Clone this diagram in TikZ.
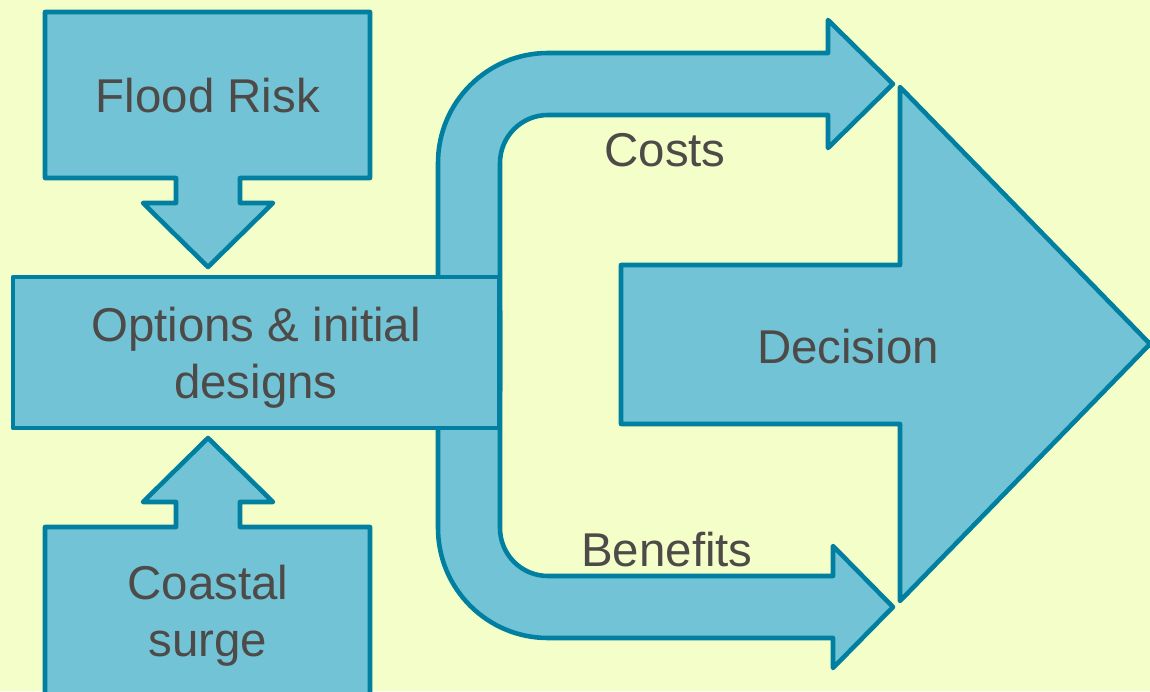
\documentclass[tikz,border=0pt]{standalone}
\usepackage{fontspec}
\setmainfont{Liberation Sans}
\definecolor{paper}{RGB}{244,254,200}
\definecolor{blockfill}{RGB}{114,195,214}
\definecolor{blockline}{RGB}{0,127,160}
\definecolor{ink}{RGB}{77,74,72}
\tikzset{
  block/.style={fill=blockfill, draw=blockline, line width=2.6pt, line join=round},
  label/.style={text=ink, font=\fontsize{27}{32.3}\selectfont, inner sep=0pt, align=center},
}
\begin{document}
\begin{tikzpicture}[x=0.02cm, y=0.02cm]
  \useasboundingbox (0,0) rectangle (1150,691);
  \fill[paper] (0,0) rectangle (1150,691);

  % decision block arrow
  \draw[block] (621,267) -- (621,426) -- (900,426) -- (900,604)
               -- (1150,347) -- (900,90) -- (900,267) -- cycle;

  % upper bent arrow (costs)
  \draw[block] (438,300) -- (438,528) arc[start angle=180, end angle=90, radius=110]
               -- (828,638) -- (828,671) -- (893,607) -- (828,543) -- (828,576)
               -- (548,576) arc[start angle=90, end angle=180, radius=48]
               -- (500,300) -- cycle;

  % lower bent arrow (benefits)
  \draw[block] (438,380) -- (438,163) arc[start angle=180, end angle=270, radius=110]
               -- (833,53) -- (833,23) -- (893,84) -- (833,145) -- (833,115)
               -- (548,115) arc[start angle=270, end angle=180, radius=48]
               -- (500,380) -- cycle;

  % flood risk callout pointing down
  \draw[block] (45,679) -- (370,679) -- (370,513) -- (240,513) -- (240,488)
               -- (273,488) -- (208,424) -- (143,488) -- (176,488) -- (176,513)
               -- (45,513) -- cycle;

  % coastal surge callout pointing up
  \draw[block] (45,-30) -- (45,164) -- (176,164) -- (176,189) -- (143,189)
               -- (208,253) -- (273,189) -- (240,189) -- (240,164) -- (370,164)
               -- (370,-30) -- cycle;

  % options box
  \draw[block] (13,263) rectangle (499,414);

  % texts
  \node[label, anchor=base] (flood) at (208,579) {Flood Risk};
  \node[label] (options) at (256,333) {Options \& initial\\designs};
  \node[label] (surge) at (208,75) {Coastal\\surge};
  \node[label, anchor=base] (costs) at (665,524) {Costs};
  \node[label, anchor=base] (benefits) at (667,125) {Benefits};
  \node[label, anchor=base] (decision) at (848,328) {Decision};
\end{tikzpicture}
\end{document}
